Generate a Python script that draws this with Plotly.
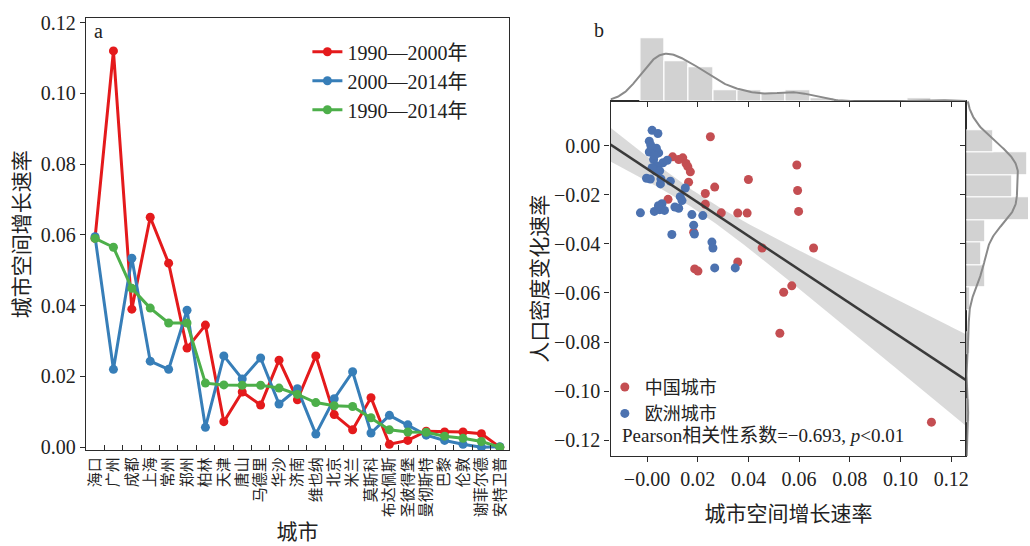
import numpy as np
import plotly.graph_objects as go

# ---------------- data: panel a ----------------
cities = ["海口", "广州", "成都", "上海", "常州", "郑州", "柏林", "天津", "唐山", "马德里",
          "华沙", "济南", "维也纳", "北京", "米兰", "莫斯科", "布达佩斯", "圣彼得堡",
          "曼彻斯特", "巴黎", "伦敦", "谢菲尔德", "安特卫普"]
rate_1990_2000 = [0.059, 0.112, 0.039, 0.065, 0.052, 0.028, 0.0345, 0.0072, 0.0156, 0.0119,
                  0.0246, 0.0134, 0.0258, 0.0092, 0.0049, 0.0140, 0.0008, 0.0019, 0.0045,
                  0.0043, 0.0043, 0.0038, 0.0000]
rate_2000_2014 = [0.0595, 0.0220, 0.0534, 0.0243, 0.0220, 0.0387, 0.0056, 0.0258, 0.0193, 0.0252,
                  0.0122, 0.0165, 0.0037, 0.0137, 0.0213, 0.0040, 0.0090, 0.0063, 0.0034,
                  0.0019, 0.0008, 0.0000, 0.0001]
rate_1990_2014 = [0.0590, 0.0565, 0.0449, 0.0393, 0.0351, 0.0351, 0.0181, 0.0176, 0.0175, 0.0175,
                  0.0167, 0.0149, 0.0126, 0.0117, 0.0115, 0.0083, 0.0049, 0.0043, 0.0042,
                  0.0031, 0.0025, 0.0016, 0.0000]
series_names = ["1990—2000年", "2000—2014年", "1990—2014年"]

# ---------------- data: panel b ----------------
china_x = [0.0591, 0.0400, 0.0594, 0.0358, 0.0395, 0.0598, 0.0454, 0.0657, 0.0358, 0.0571,
           0.0539, 0.0524, 0.1122, 0.0250, 0.0101, 0.0125, 0.0141, 0.0154, 0.0161, 0.0171,
           0.0164, 0.0230, 0.0267, 0.0230, 0.0293, 0.0083, 0.0184, 0.0188, 0.0201]
china_y = [-0.0079, -0.0138, -0.0183, -0.0275, -0.0275, -0.0268, -0.0417, -0.0417, -0.0474, -0.0571,
           -0.0597, -0.0764, -0.1126, 0.0036, -0.0046, -0.0057, -0.0050, -0.0073, -0.0086, -0.0107,
           -0.0149, -0.0195, -0.0169, -0.0239, -0.0274, -0.0219, -0.0353, -0.0502, -0.0511]
europe_x = [0.0020, 0.0043, 0.0009, 0.0037, 0.0009, 0.0046, 0.0026, 0.0063, 0.0039, 0.0033,
            0.0050, 0.0055, -0.0002, 0.0013, 0.0053, 0.0092, 0.0151, 0.0131, 0.0138, 0.0059,
            0.0050, 0.0069, -0.0026, 0.0029, 0.0125, 0.0177, 0.0220, 0.0184, 0.0187, 0.0098,
            0.0256, 0.0260, 0.0267, 0.0348, 0.0030, 0.0020, 0.0015, 0.0080, 0.0045, 0.0110]
europe_y = [0.0062, 0.0049, 0.0018, -0.0011, -0.0026, -0.0030, -0.0057, -0.0070, -0.0083, -0.0103,
            -0.0103, -0.0136, -0.0133, -0.0136, -0.0156, -0.0145, -0.0173, -0.0208, -0.0224, -0.0237,
            -0.0261, -0.0264, -0.0274, -0.0268, -0.0255, -0.0281, -0.0285, -0.0324, -0.0360, -0.0362,
            -0.0393, -0.0417, -0.0498, -0.0498, -0.0040, -0.0090, 0.0000, -0.0060, -0.0245, -0.0250]
group_names = ["中国城市", "欧洲城市"]
pearson_text = "Pearson相关性系数=−0.693, <i>p</i>&lt;0.01"
x2_tick_vals = [0.0, 0.02, 0.04, 0.06, 0.08, 0.10, 0.12]
x2_tick_text = ["−0.00", "0.02", "0.04", "0.06", "0.08", "0.10", "0.12"]

# ---------------- layout helpers ----------------
W, H = 1030, 546
def fx(p):
    return p / W
def fy(p):
    return 1 - p / H

FONT = "Liberation Serif, Noto Sans CJK SC, serif"
AX = "#2b2b2b"

fig = go.Figure()

# panel a lines
colors_a = ["#e41a1c", "#377eb8", "#4daf4a"]
for name, vals, c in zip(series_names, [rate_1990_2000, rate_2000_2014, rate_1990_2014], colors_a):
    fig.add_trace(go.Scatter(x=cities, y=vals, mode="lines+markers", name=name,
                             line=dict(color=c, width=3), marker=dict(size=9, color=c),
                             xaxis="x", yaxis="y", legend="legend"))

# panel b regression
ax_all = np.array(china_x + europe_x)
ay_all = np.array(china_y + europe_y)
x2_range = [-0.0144, 0.126]
slope, intercept = np.polyfit(ax_all, ay_all, 1)
n = len(ax_all)
resid = ay_all - (intercept + slope * ax_all)
s = np.sqrt((resid ** 2).sum() / (n - 2))
sxx = ((ax_all - ax_all.mean()) ** 2).sum()
xr = np.linspace(x2_range[0], x2_range[1], 200)
yhat = intercept + slope * xr
se = s * np.sqrt(1 / n + (xr - ax_all.mean()) ** 2 / sxx)
T95 = 1.996
fig.add_trace(go.Scatter(x=xr, y=yhat + T95 * se, mode="lines", line=dict(width=0),
                         showlegend=False, hoverinfo="skip", xaxis="x2", yaxis="y2"))
fig.add_trace(go.Scatter(x=xr, y=yhat - T95 * se, mode="lines", line=dict(width=0),
                         fill="tonexty", fillcolor="rgba(150,150,150,0.35)",
                         showlegend=False, hoverinfo="skip", xaxis="x2", yaxis="y2"))
fig.add_trace(go.Scatter(x=china_x, y=china_y, mode="markers", name=group_names[0],
                         marker=dict(size=9, color="#c44e52"), xaxis="x2", yaxis="y2", legend="legend2"))
fig.add_trace(go.Scatter(x=europe_x, y=europe_y, mode="markers", name=group_names[1],
                         marker=dict(size=9, color="#4c72b0"), xaxis="x2", yaxis="y2", legend="legend2"))
fig.add_trace(go.Scatter(x=xr, y=yhat, mode="lines", line=dict(color="#3a3a3a", width=2.5),
                         showlegend=False, hoverinfo="skip", xaxis="x2", yaxis="y2"))

# marginals
BW_ADJUST = 0.8
def kde(data, grid):
    bw = BW_ADJUST * data.std(ddof=1) * len(data) ** (-0.2)
    z = (grid[:, None] - data[None, :]) / bw
    return np.exp(-0.5 * z ** 2).sum(1) / (len(data) * bw * np.sqrt(2 * np.pi))

NBX, NBY = 12, 13
bwx = (ax_all.max() - ax_all.min()) / NBX * (1 + 1e-6)
bwy = (ay_all.max() - ay_all.min()) / NBY * (1 + 1e-6)
hx, _ = np.histogram(ax_all, bins=NBX, density=True)
hy, _ = np.histogram(ay_all, bins=NBY, density=True)
y2_range = [-0.1265, 0.018]

hist_style = dict(color="#d2d2d2", line=dict(color="white", width=1.2))
fig.add_trace(go.Histogram(x=ax_all, xbins=dict(start=ax_all.min(), end=ax_all.min() + NBX * bwx, size=bwx),
                           histnorm="probability density", marker=hist_style, showlegend=False,
                           xaxis="x3", yaxis="y3"))
gx = np.linspace(x2_range[0], x2_range[1], 300)
fig.add_trace(go.Scatter(x=gx, y=kde(ax_all, gx), mode="lines", line=dict(color="#8a8a8a", width=2),
                         showlegend=False, xaxis="x3", yaxis="y3"))
fig.add_trace(go.Histogram(y=ay_all, ybins=dict(start=ay_all.min(), end=ay_all.min() + NBY * bwy, size=bwy),
                           histnorm="probability density", marker=hist_style, showlegend=False,
                           xaxis="x4", yaxis="y4"))
gy = np.linspace(y2_range[0], y2_range[1], 300)
fig.add_trace(go.Scatter(x=kde(ay_all, gy), y=gy, mode="lines", line=dict(color="#8a8a8a", width=2),
                         showlegend=False, xaxis="x4", yaxis="y4"))

tickfont = dict(family=FONT, size=20, color="#222")
titlefont = dict(family=FONT, size=21, color="#222")
common = dict(showline=True, linecolor=AX, linewidth=1.3, showgrid=False, zeroline=False,
              tickcolor=AX, ticklen=5, tickwidth=1.3)

fig.update_layout(
    width=W, height=H, margin=dict(l=0, r=0, t=0, b=0),
    paper_bgcolor="white", plot_bgcolor="white",
    font=dict(family=FONT, size=20, color="#222"),
    xaxis=dict(domain=[fx(86), fx(510)], anchor="y", type="category", range=[-0.5, 22.5],
               tickson="boundaries", ticks="inside", tickangle=-90, mirror=True,
               tickfont=dict(family=FONT, size=15, color="#222"),
               title=dict(text="城市", font=titlefont, standoff=8), **common),
    yaxis=dict(domain=[fy(455.5), fy(11.7)], anchor="x", range=[-0.0008, 0.1212],
               tick0=0, dtick=0.02, tickformat=".2f", ticks="outside", mirror=True,
               tickfont=tickfont, title=dict(text="城市空间增长速率", font=titlefont, standoff=5), **common),
    xaxis2=dict(domain=[fx(611.7), fx(968.3)], anchor="y2", range=x2_range,
                tickmode="array", tickvals=x2_tick_vals, ticktext=x2_tick_text,
                ticks="outside", mirror=True, tickfont=tickfont,
                title=dict(text="城市空间增长速率", font=titlefont, standoff=16), **common),
    yaxis2=dict(domain=[fy(462), fy(97)], anchor="x2", range=y2_range, tick0=0, dtick=0.02,
                tickformat=".2f", ticks="outside", mirror=True, tickfont=tickfont,
                title=dict(text="人口密度变化速率", font=titlefont, standoff=0), **common),
    xaxis3=dict(domain=[fx(611.7), fx(968.3)], anchor="y3", matches="x2",
                tickmode="array", tickvals=x2_tick_vals,
                ticks="outside", showticklabels=False, **common),
    yaxis3=dict(domain=[fy(97), fy(24)], anchor="x3", range=[0, hx.max() * 73 / 65], visible=False),
    xaxis4=dict(domain=[fx(968.3), 1.0], anchor="y4", range=[0, hy.max() * 61.7 / 65], visible=False),
    yaxis4=dict(domain=[fy(462), fy(97)], anchor="x4", matches="y2", tick0=0, dtick=0.02,
                ticks="outside", showticklabels=False, **common),
    legend=dict(x=fx(308), y=fy(26), xanchor="left", yanchor="top", bgcolor="rgba(0,0,0,0)",
                traceorder="normal",
                font=dict(family=FONT, size=20, color="#222"), itemwidth=30, tracegroupgap=0),
    legend2=dict(x=fx(606), y=fy(372), xanchor="left", yanchor="top", bgcolor="rgba(0,0,0,0)",
                 traceorder="normal",
                 font=dict(family=FONT, size=18, color="#222"), itemwidth=30),
    bargap=0,
    annotations=[
        dict(text="a", x=fx(99), y=fy(25), xref="paper", yref="paper", showarrow=False,
             xanchor="center", yanchor="middle", font=dict(family=FONT, size=20, color="#222")),
        dict(text="b", x=fx(600), y=fy(24), xref="paper", yref="paper", showarrow=False,
             xanchor="center", yanchor="middle", font=dict(family=FONT, size=20, color="#222")),
        dict(text=pearson_text, x=fx(621), y=fy(441), xref="paper", yref="paper", showarrow=False,
             xanchor="left", yanchor="middle", font=dict(family=FONT, size=19, color="#222")),
    ],
)

fig.write_html("out.html")
